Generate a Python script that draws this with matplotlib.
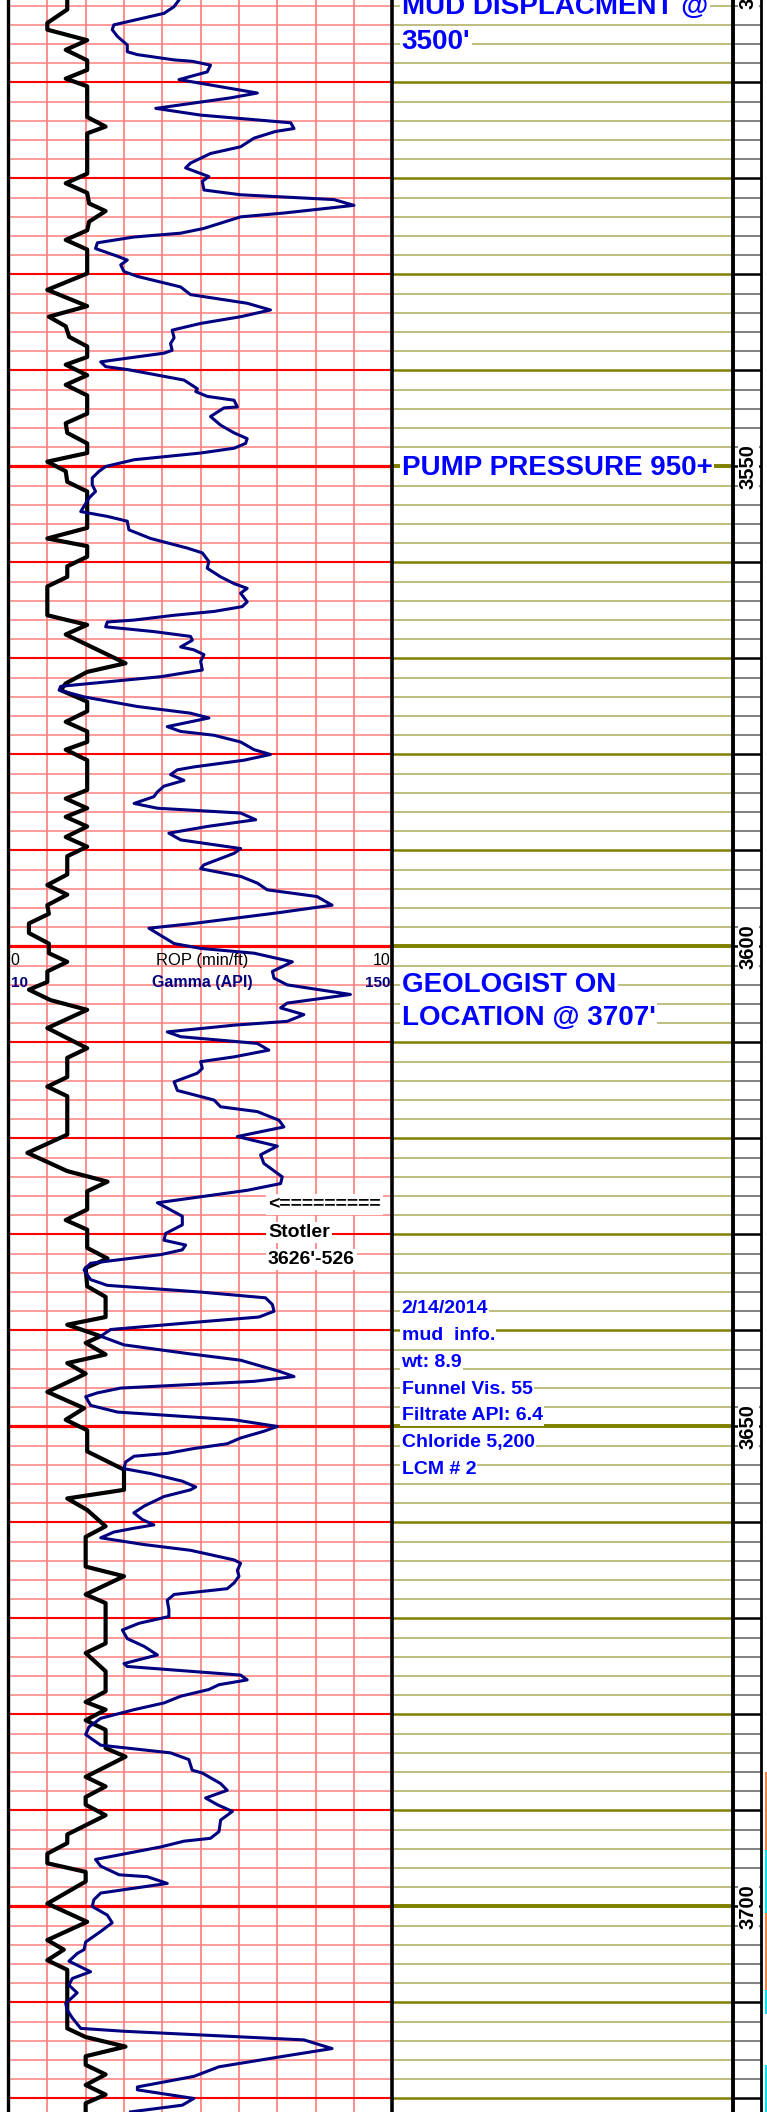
import numpy as np
import matplotlib
matplotlib.use("Agg")
import matplotlib.pyplot as plt
from matplotlib.lines import Line2D
from matplotlib.transforms import blended_transform_factory

plt.rcParams['font.family'] = ['Liberation Sans', 'DejaVu Sans']

# ---------------- data ----------------
rop_depth = [3501.4, 3502.4, 3503.8, 3504.5, 3505.6, 3506.6, 3507.7, 3508.7, 3509.6, 3510.4,
             3513.6, 3514.6, 3515.3, 3519.5, 3520.5, 3521.5, 3522.6, 3523.4, 3524.5, 3525.4,
             3526.4, 3527.4, 3529.9, 3531.6, 3533.3, 3534.4, 3535.4, 3536.5, 3537.5, 3538.6,
             3539.4, 3540.5, 3541.5, 3542.6, 3544.5, 3545.5, 3546.5, 3547.6, 3548.6, 3549.5,
             3550.5, 3551.6, 3552.6, 3556.4, 3557.5, 3558.3, 3559.4, 3560.4, 3561.5, 3562.5,
             3565.5, 3566.5, 3567.5, 3570.5, 3571.4, 3572.6, 3573.3, 3574.5, 3575.5, 3576.6,
             3577.6, 3578.7, 3579.5, 3580.6, 3583.7, 3584.6, 3585.6, 3586.5, 3587.5, 3588.6,
             3589.6, 3590.6, 3592.5, 3593.6, 3594.6, 3595.7, 3596.6, 3597.6, 3598.6, 3599.7,
             3600.7, 3601.6, 3602.6, 3603.7, 3604.5, 3605.6, 3606.6, 3608.5, 3610.6, 3611.6,
             3613.6, 3614.6, 3615.6, 3619.6, 3621.5, 3623.4, 3624.5, 3625.5, 3627.4, 3628.5,
             3629.5, 3631.4, 3632.5, 3633.5, 3635.4, 3636.5, 3638.6, 3639.4, 3640.6, 3641.3,
             3642.5, 3643.4, 3644.5, 3646.4, 3648.1, 3649.3, 3650.4, 3652.6, 3654.5, 3656.6,
             3657.5, 3658.7, 3660.4, 3661.5, 3664.6, 3665.6, 3667.5, 3668.4, 3672.6, 3673.6,
             3675.5, 3677.6, 3678.7, 3679.5, 3680.6, 3681.6, 3683.5, 3684.4, 3686.5, 3687.5,
             3688.6, 3689.4, 3690.5, 3692.5, 3693.4, 3694.5, 3695.5, 3696.4, 3697.4, 3699.7,
             3701.6, 3703.5, 3704.5, 3705.6, 3706.6, 3712.7, 3713.6, 3714.6, 3715.6, 3716.5,
             3717.5, 3718.6, 3719.6, 3720.5, 3721.4]
rop_val = [1.52, 1.52, 1.0, 1.0, 2.04, 1.48, 2.04, 2.04, 1.48, 2.04,
           2.04, 2.52, 2.04, 2.04, 1.48, 2.04, 2.09, 2.52, 2.09, 2.04,
           1.48, 2.04, 2.04, 1.0, 2.04, 1.04, 1.48, 1.57, 2.04, 2.04,
           1.48, 2.04, 1.48, 2.04, 2.04, 1.48, 1.52, 2.04, 2.04, 1.0,
           1.48, 1.52, 2.04, 2.04, 1.0, 2.04, 2.04, 1.52, 1.52, 1.0,
           1.0, 2.04, 1.48, 3.04, 2.04, 1.48, 1.35, 2.04, 2.04, 1.48,
           2.04, 2.04, 1.48, 2.04, 2.04, 1.48, 2.04, 1.48, 2.04, 1.48,
           2.04, 1.52, 1.52, 1.0, 1.52, 1.0, 1.04, 0.52, 0.52, 1.04,
           1.04, 1.52, 1.0, 1.0, 0.52, 1.09, 2.04, 1.0, 2.04, 1.52,
           1.52, 1.0, 1.52, 1.52, 0.48, 1.52, 2.57, 2.04, 2.04, 1.48,
           2.04, 2.04, 2.57, 2.0, 2.04, 2.52, 2.52, 1.52, 2.39, 2.0,
           2.52, 1.52, 2.0, 1.0, 1.96, 1.48, 2.04, 2.04, 3.0, 3.0,
           1.52, 2.04, 2.52, 2.0, 2.0, 3.0, 2.0, 2.52, 2.52, 2.0,
           2.52, 2.52, 2.0, 2.52, 2.0, 2.52, 2.52, 3.04, 2.0, 2.52,
           2.0, 2.0, 2.52, 1.52, 1.52, 1.0, 1.0, 2.0, 2.0, 1.0,
           2.04, 1.0, 1.43, 1.0, 1.52, 1.52, 2.0, 3.04, 2.0, 2.0,
           2.52, 2.0, 2.52, 2.0, 2.0]

gr_depth = [3501.4, 3502.1, 3502.8, 3504.0, 3504.5, 3505.2, 3506.1, 3506.8, 3507.1, 3507.65,
            3507.8, 3508.2, 3508.9, 3509.7, 3511.1, 3511.6, 3512.7, 3513.4, 3514.2, 3514.8,
            3515.1, 3515.8, 3516.7, 3517.4, 3518.4, 3518.9, 3519.8, 3520.3, 3521.2, 3521.7,
            3522.2, 3522.8, 3523.6, 3524.0, 3525.2, 3525.7, 3526.1, 3526.7, 3527.3, 3528.1,
            3528.5, 3529.0, 3529.7, 3530.2, 3531.3, 3532.1, 3532.5, 3533.0, 3533.7, 3534.4,
            3535.1, 3535.8, 3536.6, 3537.2, 3537.9, 3538.2, 3539.1, 3539.6, 3539.9, 3541.0,
            3541.9, 3542.2, 3542.7, 3543.1, 3543.8, 3543.9, 3544.8, 3545.7, 3546.5, 3547.1,
            3547.6, 3548.1, 3548.6, 3549.3, 3550.0, 3550.5, 3551.2, 3551.9, 3552.6, 3553.3,
            3554.7, 3555.2, 3555.7, 3556.6, 3557.5, 3558.5, 3559.0, 3559.9, 3560.6, 3561.5,
            3562.2, 3562.7, 3563.2, 3564.1, 3564.6, 3565.1, 3565.5, 3566.0, 3566.2, 3566.7,
            3567.2, 3567.7, 3568.1, 3568.8, 3569.1, 3569.6, 3570.3, 3571.2, 3571.9, 3572.9,
            3573.3, 3574.0, 3575.0, 3575.7, 3576.2, 3577.1, 3577.6, 3578.0, 3578.7, 3579.5,
            3580.0, 3580.6, 3581.3, 3581.6, 3582.1, 3582.7, 3583.3, 3583.9, 3584.4, 3585.1,
            3585.6, 3586.1, 3586.8, 3587.5, 3588.2, 3588.9, 3589.8, 3590.3, 3591.5, 3591.9,
            3592.7, 3593.4, 3594.1, 3594.8, 3595.7, 3596.5, 3597.6, 3598.1, 3599.7, 3600.2,
            3600.7, 3601.6, 3602.6, 3603.3, 3604.0, 3605.0, 3605.9, 3606.4, 3607.1, 3607.8,
            3608.2, 3608.9, 3609.4, 3610.1, 3610.8, 3611.5, 3612.0, 3612.7, 3613.2, 3614.1,
            3615.0, 3616.0, 3616.7, 3617.2, 3618.1, 3618.8, 3619.8, 3620.8, 3621.7, 3622.6,
            3624.0, 3624.7, 3625.4, 3626.7, 3628.1, 3629.0, 3629.9, 3630.6, 3631.1, 3631.6,
            3632.1, 3633.0, 3633.7, 3634.7, 3635.3, 3636.0, 3636.6, 3637.3, 3638.0, 3638.6,
            3639.1, 3639.9, 3640.6, 3641.5, 3642.4, 3643.1, 3644.3, 3644.8, 3645.3, 3646.0,
            3646.5, 3646.9, 3647.8, 3648.5, 3649.3, 3650.0, 3650.5, 3651.2, 3651.8, 3652.3,
            3652.8, 3653.1, 3653.7, 3654.4, 3654.9, 3655.7, 3656.3, 3656.6, 3657.3, 3658.3,
            3659.0, 3659.7, 3660.25, 3660.6, 3661.0, 3661.6, 3662.3, 3662.9, 3663.9, 3664.25,
            3665.0, 3665.6, 3666.3, 3666.9, 3667.5, 3668.1, 3669.1, 3669.8, 3670.5, 3671.2,
            3672.1, 3672.9, 3673.8, 3674.7, 3675.0, 3675.9, 3676.4, 3676.9, 3677.4, 3678.1,
            3678.8, 3679.5, 3680.4, 3681.3, 3682.1, 3683.2, 3684.0, 3684.7, 3685.8, 3686.1,
            3687.2, 3687.9, 3688.7, 3689.4, 3690.1, 3691.0, 3692.2, 3692.9, 3693.2, 3693.8,
            3695.1, 3695.8, 3696.7, 3696.9, 3697.6, 3698.6, 3699.3, 3700.0, 3700.9, 3701.7,
            3702.6, 3703.7, 3704.5, 3704.9, 3705.7, 3706.8, 3707.5, 3708.2, 3709.0, 3710.1,
            3710.8, 3711.6, 3712.7, 3713.0, 3713.9, 3714.8, 3715.6, 3716.7, 3717.7, 3718.8,
            3719.1, 3720.0, 3720.7, 3721.4]
gr_val = [72.1, 70.3, 66.6, 48.3, 47.7, 49.6, 53.2, 53.2, 56.9, 70.3,
          77.0, 83.6, 82.4, 72.1, 100.7, 91.0, 63.6, 80.0, 112.9, 114.1,
          107.4, 99.5, 94.6, 83.6, 76.3, 74.5, 83.0, 80.6, 81.2, 94.6,
          128.7, 136.0, 110.4, 94.6, 81.2, 72.7, 55.6, 42.3, 41.6, 49.6,
          53.2, 50.8, 52.0, 56.9, 72.7, 76.3, 85.5, 97.0, 105.5, 94.6,
          80.0, 69.6, 70.3, 69.0, 69.6, 66.6, 43.5, 45.3, 53.2, 73.9,
          78.8, 78.2, 82.4, 92.2, 93.4, 88.5, 83.6, 87.3, 92.2, 97.0,
          96.4, 92.2, 80.0, 55.7, 45.3, 42.9, 40.4, 40.4, 41.6, 39.2,
          36.2, 45.9, 53.2, 53.8, 61.7, 75.1, 80.6, 83.0, 82.4, 87.3,
          92.2, 97.0, 94.6, 97.0, 95.2, 84.9, 70.3, 55.7, 45.9, 45.3,
          62.9, 76.3, 77.0, 72.7, 77.5, 81.2, 80.0, 80.6, 65.4, 28.9,
          28.3, 37.4, 56.8, 76.3, 83.0, 67.8, 72.7, 84.9, 94.6, 99.5,
          105.5, 95.8, 77.5, 71.5, 69.0, 73.9, 66.6, 64.2, 62.9, 55.7,
          64.2, 94.6, 100.1, 82.4, 68.4, 72.7, 94.6, 92.2, 81.2, 80.0,
          94.6, 100.7, 104.3, 122.5, 128.0, 108.0, 77.5, 61.1, 70.3, 80.0,
          99.5, 113.5, 106.2, 106.8, 111.6, 134.7, 111.6, 109.2, 117.7, 111.6,
          92.2, 67.8, 72.7, 100.7, 104.9, 92.2, 80.0, 80.6, 78.8, 70.3,
          71.5, 84.9, 87.3, 100.7, 108.6, 110.4, 93.4, 108.0, 101.9, 103.1,
          109.8, 109.2, 97.0, 64.2, 73.3, 73.3, 67.2, 66.6, 74.5, 73.3,
          65.4, 39.8, 37.4, 39.8, 45.9, 80.0, 103.7, 106.2, 106.8, 101.3,
          80.0, 47.1, 43.5, 52.0, 75.1, 94.6, 109.2, 114.1, 99.5, 50.8,
          42.3, 38.0, 39.8, 49.6, 92.2, 108.0, 103.1, 94.6, 89.7, 77.5,
          67.8, 55.7, 52.6, 52.0, 61.7, 73.3, 78.2, 76.3, 66.6, 59.3,
          55.6, 58.7, 62.9, 55.7, 48.3, 43.5, 59.3, 76.3, 92.2, 94.6,
          93.4, 94.0, 92.2, 89.7, 70.3, 67.8, 68.4, 68.4, 57.5, 51.4,
          53.2, 59.3, 64.2, 52.0, 53.2, 94.6, 97.0, 86.7, 83.0, 72.7,
          66.6, 55.7, 43.5, 39.2, 38.0, 43.5, 69.0, 75.7, 76.9, 80.6,
          87.3, 89.7, 81.8, 86.1, 91.6, 87.3, 86.7, 83.6, 73.9, 65.4,
          41.6, 43.5, 50.2, 60.5, 67.8, 43.5, 41.0, 40.4, 45.9, 47.7,
          43.5, 38.0, 37.4, 34.9, 31.9, 39.8, 33.1, 31.9, 34.9, 30.7,
          31.3, 33.1, 36.2, 52.0, 117.7, 128.0, 110.4, 86.7, 77.5, 56.9,
          56.9, 77.5, 73.3, 54.4]

rop_range = [0, 10]
gr_range = [10, 150]
depth_labels = [3500, 3550, 3600, 3650, 3700]
mud_info = ["2/14/2014", "mud  info.", "wt: 8.9", "Funnel Vis. 55",
            "Filtrate API: 6.4", "Chloride 5,200", "LCM # 2"]
mud_info_depth = [3638.21, 3641.02, 3643.80, 3646.59, 3649.37, 3652.14, 3654.93]
remarks = ["MUD DISPLACMENT @", "3500'", "PUMP PRESSURE 950+",
           "GEOLOGIST ON", "LOCATION @ 3707'"]
remarks_depth = [3502.87, 3506.5, 3550.89, 3604.71, 3608.18]
formation = ["<=========", "Stotler", "3626'-526"]
formation_depth = [3627.35, 3630.23, 3633.08]
litho_top = [3686.0, 3694.1, 3700.7, 3708.7, 3716.5]
litho_bot = [3694.1, 3700.7, 3708.7, 3711.2, 3721.5]
litho_col = ['#F08040', '#00E0F0', '#F08040', '#00E0F0', '#00E0F0']

# ---------------- layout ----------------
W, H = 767, 2112
D_TOP = 3501.41
PX_PER_FT = 9.6
D_BOT = D_TOP + H / PX_PER_FT

fig = plt.figure(figsize=(W / 100, H / 100), dpi=100)
fig.patch.set_facecolor('white')


def add(x0, x1):
    ax = fig.add_axes([x0 / W, 0, (x1 - x0) / W, 1])
    ax.set_ylim(D_BOT, D_TOP)
    ax.set_xticks([])
    ax.set_yticks([])
    for s in ax.spines.values():
        s.set_visible(False)
    ax.patch.set_alpha(0)
    return ax


ax_l = add(9.0, 392.3)
ax_l.set_xlim(*rop_range)
ax_g = ax_l.twiny()
ax_g.set_xlim(*gr_range)
ax_g.set_ylim(D_BOT, D_TOP)
ax_g.set_xticks([])
for s in ax_g.spines.values():
    s.set_visible(False)
ax_r = add(392.3, 732.7)
ax_r.set_xlim(0, 1)
ax_d = add(732.7, 761.4)
ax_d.set_xlim(0, 1)
ax_s = add(764.5, 767)
ax_s.set_xlim(0, 1)

grid_d = np.arange(3502, 3722, 2)
for d in grid_d:
    if d % 50 == 0:
        ax_l.axhline(d, color='#FF0000', lw=2.3, zorder=1.2)
        ax_r.axhline(d, color='#808000', lw=2.8, zorder=1.2)
        ax_d.axhline(d, color='black', lw=1.8, zorder=1.2)
    elif d % 10 == 0:
        ax_l.axhline(d, color='#FF0000', lw=1.5, zorder=1.2)
        ax_r.axhline(d, color='#808000', lw=1.8, zorder=1.2)
        ax_d.axhline(d, color='black', lw=1.8, zorder=1.2)
    else:
        ax_l.axhline(d, color='#FF8080', lw=1.1, zorder=1)
        ax_r.axhline(d, color='#BEBE82', lw=1.4, zorder=1)
        ax_d.axhline(d, color='#808080', lw=1.4, zorder=1)
for v in range(1, 10):
    ax_l.axvline(v, color='#FF8080', lw=1.25, zorder=1.1)

# lithology sliver at the far right
for t, b, c in zip(litho_top, litho_bot, litho_col):
    ax_s.axhspan(t, b, color=c, lw=0)

# curves
ax_l.plot(rop_val, rop_depth, color='black', lw=3.0, zorder=3)
ax_g.plot(gr_val, gr_depth, color='#000080', lw=2.2, zorder=3)

# track borders
for xp, lw in [(8.3, 2.4), (392.3, 2.6), (732.7, 2.8), (761.4, 2.0)]:
    fig.add_artist(Line2D([xp / W, xp / W], [0, 1], transform=fig.transFigure,
                          color='black', lw=lw))


def tx(ax, xpx, depth, s, **kw):
    tr = blended_transform_factory(fig.transFigure, ax.transData)
    return ax.text(xpx / W, depth, s, transform=tr, **kw)


white = dict(facecolor='white', edgecolor='none', pad=1.5)

# remarks in the right track
for s, d in zip(remarks, remarks_depth):
    tx(ax_r, 401.5, d, s, color='#0000FF', fontsize=20, fontweight='bold',
       ha='left', va='baseline', bbox=white, zorder=5)
for s, d in zip(mud_info, mud_info_depth):
    tx(ax_r, 401.5, d, s, color='#0000FF', fontsize=14, fontweight='bold',
       ha='left', va='baseline', bbox=dict(facecolor='white', edgecolor='none', pad=1.0),
       zorder=5)

# formation top
for s, d in zip(formation, formation_depth):
    tx(ax_g, 268, d, s, color='black', fontsize=14, fontweight='bold',
       ha='left', va='baseline', bbox=dict(facecolor='white', edgecolor='none', pad=1.5),
       zorder=6)

# scale header
scale_d1 = 3601.93
scale_d2 = 3604.22
tx(ax_g, 10, scale_d1, str(rop_range[0]), color='black', fontsize=11.5, ha='left', va='baseline', zorder=6)
tx(ax_g, 202, scale_d1, 'ROP (min/ft)', color='black', fontsize=12, ha='center', va='baseline', zorder=6)
tx(ax_g, 391, scale_d1, str(rop_range[1]), color='black', fontsize=11.5, ha='right', va='baseline', zorder=6)
tx(ax_g, 11, scale_d2, str(gr_range[0]), color='#000080', fontsize=11, fontweight='bold',
   ha='left', va='baseline', zorder=6)
tx(ax_g, 202, scale_d2, 'Gamma (API)', color='#000080', fontsize=11.5, fontweight='bold',
   ha='center', va='baseline', zorder=6)
tx(ax_g, 390.5, scale_d2, str(gr_range[1]), color='#000080', fontsize=11, fontweight='bold',
   ha='right', va='baseline', zorder=6)

# depth labels
for d in depth_labels:
    tx(ax_d, 748.5, d, str(d), color='black', fontsize=14.5, fontweight='bold',
       rotation=90, ha='center', va='center',
       bbox=dict(facecolor='white', edgecolor='none', pad=1.0), zorder=5)

fig.savefig('out.png', dpi=100, facecolor='white')
